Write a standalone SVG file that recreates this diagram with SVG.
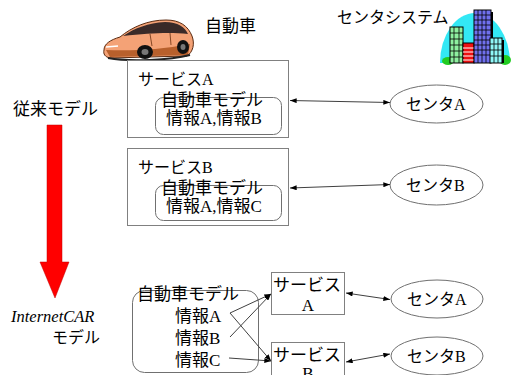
<svg xmlns="http://www.w3.org/2000/svg" width="514" height="375" viewBox="0 0 514 375">
  <defs>
    <style>
      .jp { font-family: "Liberation Serif", "Noto Sans CJK JP", sans-serif; fill: #000; }
      .box { fill: #fff; stroke: #808080; stroke-width: 1; }
      .model { fill: none; stroke: #707070; stroke-width: 1; }
      .center { fill: #fff; stroke: #707070; stroke-width: 1; }
      .link { stroke: #404040; stroke-width: 1; fill: none; }
      .win { stroke: #000; stroke-width: 0.8; }
    </style>
    <marker id="head" viewBox="0 0 8 6" refX="8" refY="3" markerWidth="7" markerHeight="5" markerUnits="userSpaceOnUse" orient="auto-start-reverse">
      <path d="M0,0 L8,3 L0,6 Z" fill="#000"/>
    </marker>
  </defs>

  <!-- car icon -->
  <g id="car">
    <path d="M104,50 C104,44 110,40 120,37 C132,27 148,20 166,20 C180,20 188,26 192,36 C195,44 193,52 187,56 L110,58 C105,57 103,54 104,50 Z" fill="#f4a276" stroke="#5a2a10" stroke-width="1"/>
    <path d="M106,50 C130,51 160,50 190,44 L188,55 L110,57 Z" fill="#b8602c"/>
    <path d="M123,36 C135,28 148,23 165,22 C178,22 185,27 188,34 C170,32 150,33 123,36 Z" fill="#3a2a28"/>
    <path d="M150,34 L152,46 M170,33 L171,45" stroke="#6a3010" stroke-width="0.8"/>
    <path d="M106,47 L118,46" stroke="#fff" stroke-width="1.5"/>
    <ellipse cx="145" cy="52" rx="8" ry="7" fill="#111"/>
    <ellipse cx="145" cy="52" rx="3.5" ry="3" fill="#777"/>
    <ellipse cx="183" cy="47" rx="6" ry="7" fill="#111"/>
    <ellipse cx="183" cy="47" rx="2.5" ry="3" fill="#777"/>
    <path d="M108,58 C130,62 170,60 190,55" stroke="#222" stroke-width="2" fill="none"/>
  </g>
  <g id="car-label"><text class="jp" x="205" y="32" font-size="17">自動車</text></g>

  <!-- center system icon -->
  <g id="center-system">
    <text class="jp" x="337" y="23" font-size="16">センタシステム</text>
    <path d="M440,63 A35,50 0 0 1 510,63 Z" fill="#33e8f5"/>
    <ellipse cx="448" cy="61" rx="6" ry="4" fill="#22cc22"/>
    <ellipse cx="505" cy="60" rx="6" ry="5" fill="#22cc22"/>
    <!-- green tower -->
    <rect x="450" y="27" width="13" height="36" fill="#8ef0a0" stroke="#000" stroke-width="1"/>
    <path class="win" d="M454,27 V63 M459,27 V63 M450,33 H463 M450,39 H463 M450,45 H463 M450,51 H463 M450,57 H463"/>
    <!-- red block -->
    <rect x="463" y="43" width="11" height="20" fill="#ee1111" stroke="#000" stroke-width="1"/>
    <path d="M463,48 H474 M463,52 H474 M463,56 H474 M463,60 H474" stroke="#fff" stroke-width="1"/>
    <!-- blue tower -->
    <rect x="474" y="10" width="17" height="53" fill="#7070ee" stroke="#000" stroke-width="1"/>
    <path class="win" d="M478,10 V63 M482,10 V63 M486,10 V63 M474,15 H491 M474,20 H491 M474,25 H491 M474,30 H491 M474,35 H491 M474,40 H491 M474,45 H491 M474,50 H491 M474,55 H491"/>
    <rect x="491" y="12" width="2" height="51" fill="#000"/>
    <!-- cyan tower -->
    <rect x="490" y="38" width="12" height="25" fill="#90f8f8" stroke="#000" stroke-width="1"/>
    <path class="win" d="M494,38 V63 M498,38 V63 M490,44 H502 M490,50 H502 M490,56 H502"/>
    <rect x="502" y="40" width="2" height="23" fill="#000"/>
  </g>

  <!-- transition arrow -->
  <g id="transition">
    <text class="jp" x="13" y="115" font-size="17">従来モデル</text>
    <path d="M47,125 H62 V262 H69 L55,298 L40,262 H47 Z" fill="#ff0000" stroke="#c00000" stroke-width="0.5"/>
    <text x="11" y="322" font-family="Liberation Serif, serif" font-style="italic" font-size="16.5">InternetCAR</text>
    <text class="jp" x="52" y="343" font-size="16">モデル</text>
  </g>

  <!-- conventional model: service A -->
  <g id="service-a">
    <rect class="box" x="127.5" y="60.5" width="161" height="77"/>
    <text class="jp" x="138" y="85" font-size="16">サービスA</text>
    <rect class="model" x="155.5" y="97.5" width="126" height="37" rx="8"/>
    <text class="jp" x="161" y="106" font-size="17">自動車モデル</text>
    <text class="jp" x="166" y="124" font-size="17">情報A,情報B</text>
  </g>

  <!-- conventional model: service B -->
  <g id="service-b">
    <rect class="box" x="127.5" y="148.5" width="161" height="77"/>
    <text class="jp" x="138" y="173" font-size="16">サービスB</text>
    <rect class="model" x="155.5" y="185.5" width="126" height="35" rx="8"/>
    <text class="jp" x="161" y="194" font-size="17">自動車モデル</text>
    <text class="jp" x="166" y="212" font-size="17">情報A,情報C</text>
  </g>

  <g id="center-a">
    <ellipse class="center" cx="436.5" cy="104" rx="46.5" ry="19"/>
    <text class="jp" x="406" y="110" font-size="16">センタA</text>
  </g>
  <g id="center-b">
    <ellipse class="center" cx="436.5" cy="185" rx="46.5" ry="20"/>
    <text class="jp" x="406" y="191" font-size="16">センタB</text>
  </g>

  <!-- InternetCAR model -->
  <g id="car-model">
    <rect class="model" x="132.5" y="290.5" width="126" height="82" rx="12"/>
    <text class="jp" x="137" y="300" font-size="17">自動車モデル</text>
    <text class="jp" x="175" y="322" font-size="17">情報A</text>
    <text class="jp" x="175" y="344" font-size="17">情報B</text>
    <text class="jp" x="175" y="366" font-size="17">情報C</text>
  </g>

  <g id="ic-service-a">
    <rect class="box" x="271.5" y="272.5" width="73" height="42"/>
    <text class="jp" x="273" y="291" font-size="17">サービス</text>
    <text class="jp" x="308" y="311" font-size="17" text-anchor="middle">A</text>
  </g>
  <g id="ic-service-b">
    <rect class="box" x="271.5" y="342.5" width="73" height="42"/>
    <text class="jp" x="273" y="361" font-size="17">サービス</text>
    <text class="jp" x="308" y="379" font-size="17" text-anchor="middle">B</text>
  </g>

  <g id="ic-center-a">
    <ellipse class="center" cx="437" cy="299" rx="46" ry="19"/>
    <text class="jp" x="407" y="305" font-size="16">センタA</text>
  </g>
  <g id="ic-center-b">
    <ellipse class="center" cx="437" cy="356" rx="46" ry="19"/>
    <text class="jp" x="407" y="362" font-size="16">センタB</text>
  </g>

  <!-- connectors -->
  <g id="connectors">
    <line class="link" x1="290" y1="100.5" x2="390" y2="102.5" marker-start="url(#head)" marker-end="url(#head)"/>
    <line class="link" x1="290" y1="188" x2="390" y2="184.5" marker-start="url(#head)" marker-end="url(#head)"/>
    <line class="link" x1="346" y1="293" x2="390" y2="299.5" marker-start="url(#head)" marker-end="url(#head)"/>
    <line class="link" x1="346" y1="362" x2="390" y2="354" marker-start="url(#head)" marker-end="url(#head)"/>
    <line class="link" x1="230" y1="313" x2="271" y2="294" marker-end="url(#head)"/>
    <line class="link" x1="230" y1="313" x2="271" y2="361" marker-end="url(#head)"/>
    <line class="link" x1="230" y1="337" x2="271" y2="294" marker-end="url(#head)"/>
    <line class="link" x1="229" y1="358" x2="271" y2="361" marker-end="url(#head)"/>
  </g>
</svg>
